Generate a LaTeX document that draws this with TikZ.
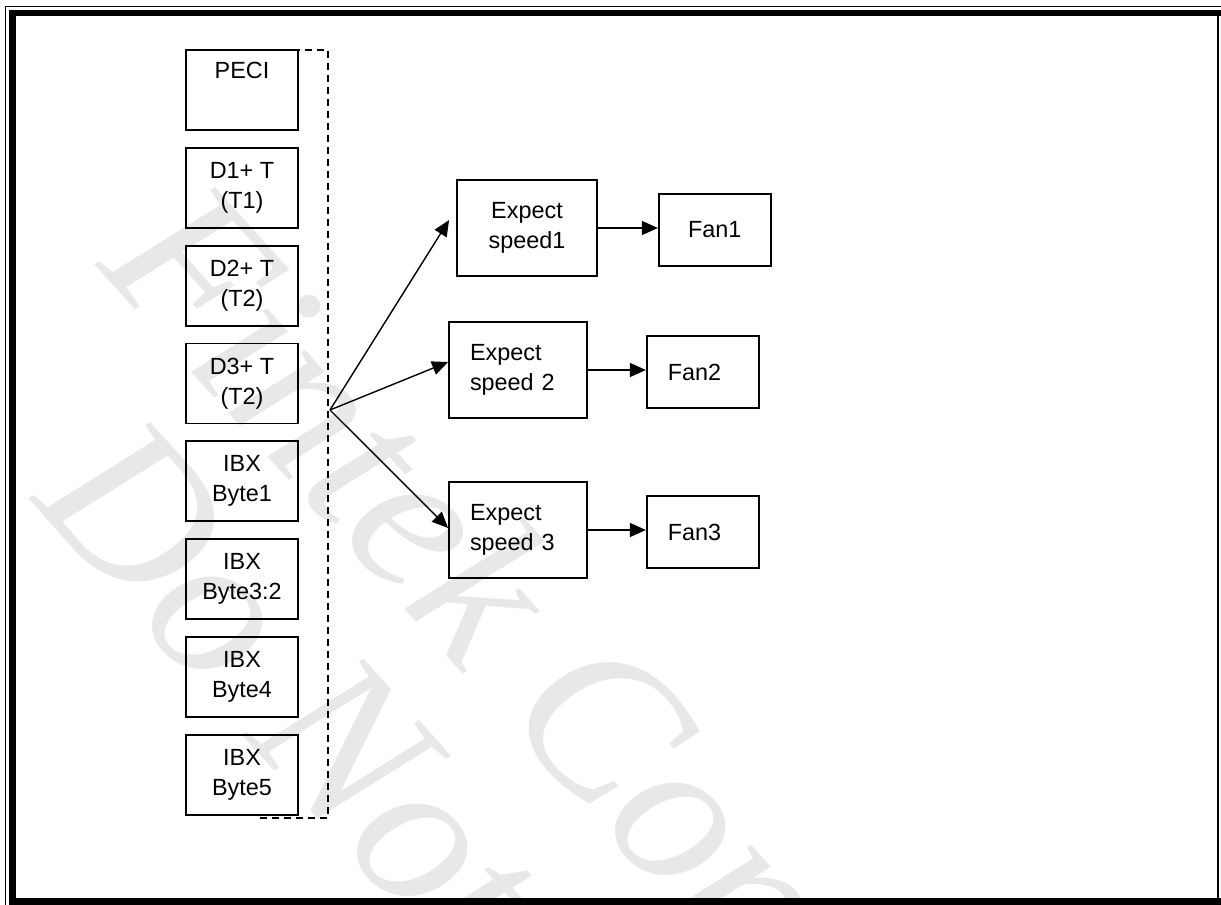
\documentclass[tikz,border=0pt]{standalone}
\usepackage{fontspec}
\setmainfont{Liberation Sans}
\newfontfamily\markfont{Liberation Serif}
\usetikzlibrary{arrows.meta,positioning}

\begin{document}
\begin{tikzpicture}[x=0.5pt,y=-0.5pt,node distance=8pt and 30pt,font=\fontsize{11.7}{15}\selectfont,
src/.style={draw,line width=0.9pt,minimum width=56pt,minimum height=40pt,align=center,inner sep=0pt},
spdc/.style={draw,line width=0.9pt,minimum width=70pt,minimum height=48pt,align=center,inner sep=0pt},
spdl/.style={draw,line width=0.9pt,text width=48pt,inner xsep=10.5pt,minimum height=48pt,align=left},
fanc/.style={draw,line width=0.9pt,minimum width=56pt,minimum height=36pt,align=center,inner sep=0pt},
fanl/.style={draw,line width=0.9pt,text width=35pt,inner xsep=10.5pt,minimum height=36pt,align=left},
wmark/.style={text=black!9,font=\markfont\itshape\fontsize{108}{108}\selectfont,inner sep=0pt},
arr/.style={-{Triangle[length=8pt,width=7pt]},line width=0.7pt},
grp/.style={dashed,dash pattern=on 3.5pt off 2.5pt,line width=0.9pt}]
\useasboundingbox (0,0) rectangle (1221,905);
% watermark
\begin{scope}
\clip (16,16) rectangle (1217,898);
\node[wmark,rotate=-48,anchor=base west] (wmtop) at (95,265) {Fintek Confidential};
\node[wmark,rotate=-48,anchor=base west] (wmbot) at (30,500) {Do Not Copy};
\end{scope}
% inputs
\node[src] (peci) at (242,90) {PECI\\\strut};
\node[src,below=of peci] (d1t) {D1+ T\\(T1)};
\node[src,below=of d1t] (d2t) {D2+ T\\(T2)};
\node[src,below=of d2t] (d3t) {D3+ T\\(T2)};
\node[src,below=of d3t] (ibx1) {IBX\\Byte1};
\node[src,below=of ibx1] (ibx32) {IBX\\Byte3:2};
\node[src,below=of ibx32] (ibx4) {IBX\\Byte4};
\node[src,below=of ibx4] (ibx5) {IBX\\Byte5};
\draw[grp] (257,50) -- (328,50) -- (328,818) -- (257,818);
\coordinate (hub) at (330,410);
% speeds and fans
\node[spdc] (speed1) at (527,228) {Expect\\speed1};
\node[spdl] (speed2) at (518,370) {Expect\\speed 2};
\node[spdl] (speed3) at (518,530) {Expect\\speed 3};
\node[fanc,right=30pt of speed1,yshift=-1pt] (fan1) {Fan1};
\node[fanl,right=29pt of speed2,yshift=-1pt] (fan2) {Fan2};
\node[fanl,right=29pt of speed3,yshift=-1pt] (fan3) {Fan3};
\draw[arr] (hub) -- ([xshift=-3.5pt,yshift=4pt]speed1.west);\draw[arr] (hub) -- ([yshift=4pt]speed2.west);\draw[arr] (hub) -- ([yshift=1pt]speed3.west);
\draw[arr] (speed1.east) -- (speed1.east -| fan1.west);\draw[arr] (speed2.east) -- (speed2.east -| fan2.west);\draw[arr] (speed3.east) -- (speed3.east -| fan3.west);
% frame
\draw[line width=0.6pt] (5.5,905) -- (5.5,6.5) -- (1221,6.5);
\draw[line width=3.2pt] (12.5,905) -- (12.5,13) -- (1221,13);
\draw[line width=3.5pt] (9,901.5) -- (1221,901.5);
\draw[line width=1pt] (1218,13) -- (1218,901.5);
\end{tikzpicture}
\end{document}
